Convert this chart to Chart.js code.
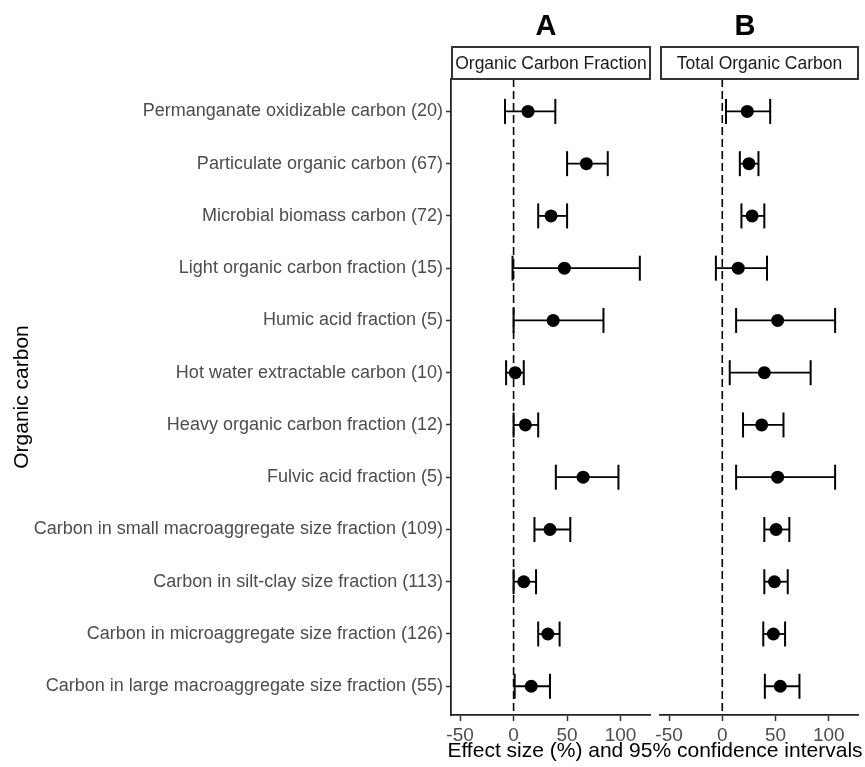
<!DOCTYPE html>
<html>
<head>
<meta charset="utf-8">
<script src="https://cdn.jsdelivr.net/npm/chart.js@4/dist/chart.umd.min.js"></script>
<style>
  body { margin: 0; background: #fff; font-family: "Liberation Sans", Arial, sans-serif; }
  #wrap { position: relative; width: 865px; height: 767px; overflow: hidden; }
  canvas { position: absolute; top: 0; }
  .panelTag { position: absolute; top: 9px; font-size: 29px; font-weight: bold; width: 60px; text-align: center; color: #000; }
  .strip { position: absolute; top: 46px; height: 34px; box-sizing: border-box; border: 2px solid #333;
           font-size: 17.5px; line-height: 30px; text-align: center; color: #1a1a1a; white-space: nowrap; }
  #xTitle { position: absolute; top: 738px; left: 447px; width: 416px; text-align: center; font-size: 21px; color: #000; white-space: nowrap; }
</style>
</head>
<body>
<div id="wrap">
  <canvas id="panelA" width="655" height="767" style="left:0;width:655px;height:767px"></canvas>
  <canvas id="panelB" width="210" height="767" style="left:655px;width:210px;height:767px"></canvas>
  <div class="panelTag" style="left:516px">A</div>
  <div class="panelTag" style="left:715px">B</div>
  <div class="strip" style="left:451px;width:200px">Organic Carbon Fraction</div>
  <div class="strip" style="left:660px;width:199px">Total Organic Carbon</div>
  <div id="xTitle">Effect size (%) and 95% confidence intervals</div>
</div>
<script>
'use strict';

let categories = [
    'Permanganate oxidizable carbon (20)',
    'Particulate organic carbon (67)',
    'Microbial biomass carbon (72)',
    'Light organic carbon fraction (15)',
    'Humic acid fraction (5)',
    'Hot water extractable carbon (10)',
    'Heavy organic carbon fraction (12)',
    'Fulvic acid fraction (5)',
    'Carbon in small macroaggregate size fraction (109)',
    'Carbon in silt-clay size fraction (113)',
    'Carbon in microaggregate size fraction (126)',
    'Carbon in large macroaggregate size fraction (55)'
];

// A: organic carbon fraction
let fracMean = [13.5, 68, 35, 47.5, 37, 1.5, 11, 65, 34, 9.5, 32, 16.5];
let fracLow = [-8, 50, 23, -1, 0, -7, 0, 39.5, 19.5, 0, 23, 1];
let fracHigh = [39, 88, 50, 118, 84, 9.5, 23, 98, 53, 21, 43, 34];

// B: total organic carbon
let totalMean = [23.5, 25, 28, 15, 52, 39.5, 37, 52, 50.5, 49, 48, 54.5];
let totalLow = [3.5, 16.5, 18, -6, 13, 7, 19.5, 13, 39.5, 39.5, 38.5, 40];
let totalHigh = [45, 34, 39.5, 42, 106, 83, 57.5, 106, 63, 61.5, 59, 72.5];

let xTicks = [-50, 0, 50, 100];
let xMin = -58.5;
let xMax = 127.5;
let yMin = 0.38;
let yMax = 12.55;

function makeDatasets(means, lows, highs) {
    let sets = [];
    sets.push({
        data: [{ x: 0, y: yMin }, { x: 0, y: yMax }],
        showLine: true,
        borderColor: '#000',
        borderWidth: 1.6,
        borderDash: [8, 4],
        pointRadius: 0,
        order: 3
    });
    for (let i = 0; i < categories.length; i++) {
        sets.push({
            data: [{ x: lows[i], y: i + 1 }, { x: highs[i], y: i + 1 }],
            showLine: true,
            borderColor: '#000',
            borderWidth: 1.8,
            pointStyle: 'line',
            rotation: 90,
            pointRadius: 12.5,
            pointBorderColor: '#000',
            pointBorderWidth: 2,
            order: 2
        });
    }
    sets.push({
        data: means.map((m, i) => ({ x: m, y: i + 1 })),
        pointStyle: 'circle',
        pointRadius: 6.5,
        pointBackgroundColor: '#000',
        pointBorderColor: '#000',
        pointBorderWidth: 0,
        order: 1
    });
    return sets;
}

function makePanel(id, means, lows, highs, showY) {
    let ctx = document.getElementById(id).getContext('2d');
    return new Chart(ctx, {
        type: 'scatter',
        data: { datasets: makeDatasets(means, lows, highs) },
        options: {
            responsive: false,
            animation: false,
            events: [],
            layout: {
                autoPadding: false,
                padding: { top: 79, right: showY ? 5 : 7, left: showY ? 0 : 5, bottom: 0 }
            },
            plugins: { legend: { display: false }, tooltip: { enabled: false } },
            scales: {
                x: {
                    type: 'linear',
                    min: xMin,
                    max: xMax,
                    afterBuildTicks: (scale) => { scale.ticks = xTicks.map(v => ({ value: v })); },
                    afterFit: (scale) => {
                        scale.height = 52;
                        scale.paddingLeft = 0;
                        scale.paddingRight = 0;
                    },
                    grid: { drawOnChartArea: false, drawTicks: true, tickLength: 6, tickWidth: 1.5, tickColor: '#333' },
                    border: { display: true, color: '#222', width: 1.8 },
                    ticks: { color: '#4d4d4d', font: { family: 'Liberation Sans', size: 19 }, padding: 3, maxRotation: 0 }
                },
                y: {
                    type: 'linear',
                    display: showY,
                    reverse: true,
                    min: yMin,
                    max: yMax,
                    afterBuildTicks: (scale) => { scale.ticks = categories.map((c, i) => ({ value: i + 1 })); },
                    afterFit: (scale) => {
                        scale.width = showY ? 451 : 0;
                        scale.paddingTop = 0;
                        scale.paddingBottom = 0;
                    },
                    grid: { drawOnChartArea: false, drawTicks: true, tickLength: 5, tickWidth: 1.5, tickColor: '#333' },
                    border: { display: true, color: '#222', width: 1.8 },
                    ticks: {
                        color: '#4d4d4d',
                        font: { family: 'Liberation Sans', size: 18 },
                        padding: 3,
                        autoSkip: false,
                        callback: (value) => categories[Math.round(value) - 1]
                    },
                    title: {
                        display: true,
                        text: 'Organic carbon',
                        color: '#000',
                        font: { family: 'Liberation Sans', size: 21 },
                        padding: { top: 10, bottom: 0 }
                    }
                }
            }
        }
    });
}

makePanel('panelA', fracMean, fracLow, fracHigh, true);
makePanel('panelB', totalMean, totalLow, totalHigh, false);
</script>
</body>
</html>
